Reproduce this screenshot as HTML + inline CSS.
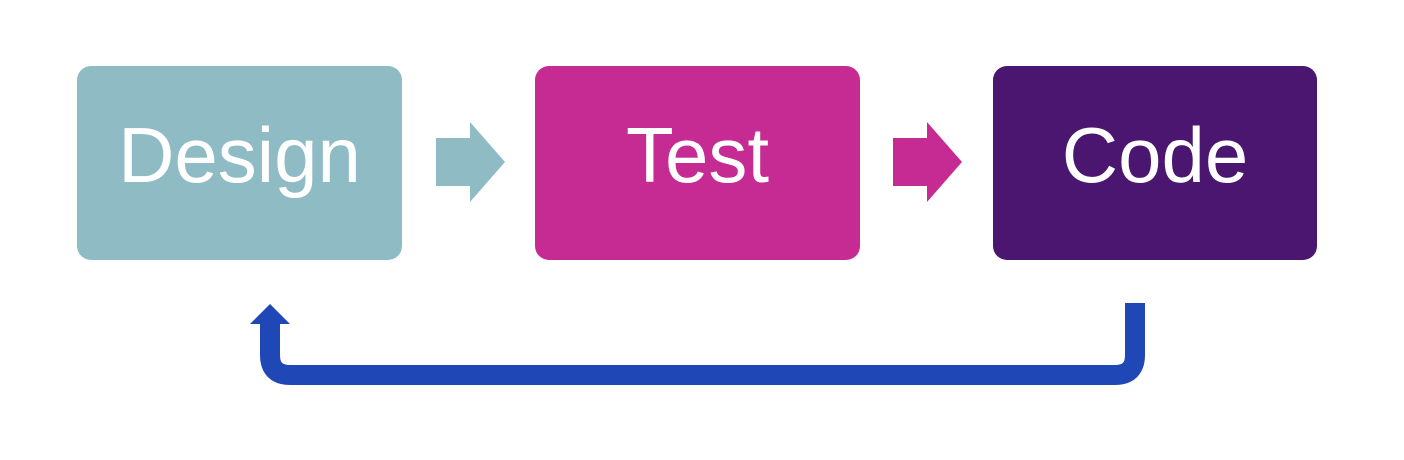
<!DOCTYPE html>
<html><head><style>
body{margin:0;width:1404px;height:460px;background:#fff;position:relative;overflow:hidden;font-family:"Liberation Sans",sans-serif}
.b{position:absolute;top:66px;width:325px;height:194px;border-radius:14px;color:#fff;font-size:78px;display:flex;align-items:center;justify-content:center;padding-bottom:16px;box-sizing:border-box}
</style></head><body>
<div class="b" style="left:77px;background:#8fbcc4">Design</div>
<div class="b" style="left:535px;background:#c52b92">Test</div>
<div class="b" style="left:993px;width:324px;background:#4a1670">Code</div>
<svg width="1404" height="460" style="position:absolute;left:0;top:0">
<polygon points="436,138 470,138 470,122 505,162 470,202 470,186 436,186" fill="#8fbcc4"/>
<polygon points="893,138 927,138 927,122 962,162 927,202 927,186 893,186" fill="#c52b92"/>
<path d="M1135,303 V355 Q1135,375 1115,375 H290 Q270,375 270,355 V322" fill="none" stroke="#1f47b5" stroke-width="20"/>
<polygon points="250,324 270,304 290,324" fill="#1f47b5"/>
</svg>
</body></html>
